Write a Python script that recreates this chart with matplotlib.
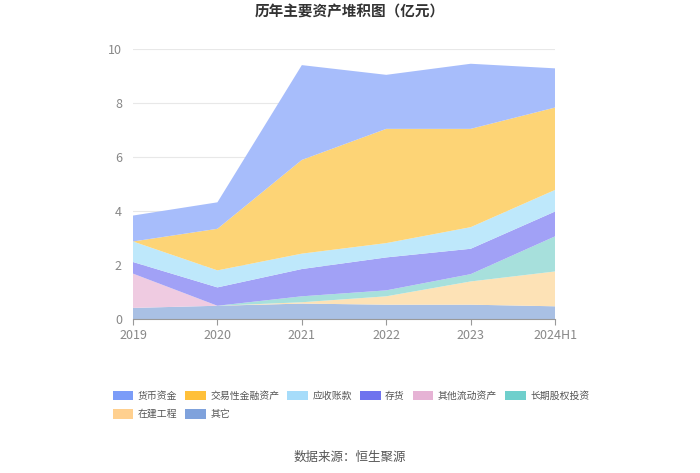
import matplotlib.pyplot as plt
import numpy as np
from matplotlib.patches import Patch

plt.rcParams['font.family'] = ['Noto Sans CJK SC', 'DejaVu Sans']

years = ["2019", "2020", "2021", "2022", "2023", "2024H1"]
series_names = ["其它", "在建工程", "长期股权投资", "其他流动资产", "存货", "应收账款", "交易性金融资产", "货币资金"]
other = [0.41, 0.49, 0.57, 0.53, 0.53, 0.47]
construction = [0.00, 0.00, 0.05, 0.31, 0.86, 1.29]
lt_equity = [0.00, 0.00, 0.22, 0.22, 0.27, 1.30]
other_current = [1.27, 0.00, 0.00, 0.00, 0.00, 0.00]
inventory = [0.43, 0.68, 1.01, 1.22, 0.94, 0.92]
receivables = [0.76, 0.63, 0.57, 0.53, 0.80, 0.80]
trading_fin = [0.00, 1.54, 3.47, 4.23, 3.64, 3.05]
cash = [0.96, 0.98, 3.51, 2.00, 2.41, 1.45]

fill_colors = ["#a9c0e4", "#fde2b6", "#a7e0dc", "#efcbe1", "#a1a1f6", "#bee8fb", "#fdd476", "#a7bdfb"]
legend_colors = ["#7fa2dc", "#ffd08f", "#6fcfcc", "#e6b3d5", "#6f73ee", "#a6dcfa", "#ffc03a", "#7b9cf8"]

fig = plt.figure(figsize=(7, 4.73), dpi=100)
ax = fig.add_axes([0.19, 0.3256, 0.603, 0.571])

x = np.arange(len(years))
data = [other, construction, lt_equity, other_current, inventory, receivables, trading_fin, cash]
ax.stackplot(x, *data, colors=fill_colors, linewidth=0)

ax.set_xlim(0, len(years) - 1)
ax.set_ylim(0, 10)
ax.set_yticks(range(0, 11, 2))
ax.set_xticks(x)
ax.set_xticklabels(years)
ax.grid(axis='y', color='#e8e8e8', linewidth=0.8)
ax.set_axisbelow(True)
for s in ['top', 'right', 'left']:
    ax.spines[s].set_visible(False)
ax.spines['bottom'].set_color('#999999')
ax.tick_params(axis='y', length=0, labelcolor='#888888', labelsize=9, pad=8)
ax.tick_params(axis='x', length=4, color='#999999', labelcolor='#888888', labelsize=9)

fig.text(0.5, 0.975, "历年主要资产堆积图（亿元）", ha='center', va='center', fontsize=10.5, fontweight='bold', color='#333333')
fig.text(0.5, 0.034, "数据来源：恒生聚源", ha='center', va='center', fontsize=9, color='#555555')

# legend in display order, row-major
order = [7, 6, 5, 4, 3, 2, 1, 0]
handles = [Patch(facecolor=legend_colors[i], edgecolor='none', label=series_names[i]) for i in order]
cm = [0, 6, 1, 7, 2, 3, 4, 5]
handles = [handles[i] for i in cm]
fig.legend(handles=handles, loc='upper left', bbox_to_anchor=(0.161, 0.174), ncol=6, frameon=False,
           fontsize=7.1, handlelength=2.1, handleheight=1.15, columnspacing=0.8, handletextpad=0.45,
           labelspacing=0.8, labelcolor='#555555', borderpad=0, borderaxespad=0)

fig.savefig("out.png", dpi=100)
